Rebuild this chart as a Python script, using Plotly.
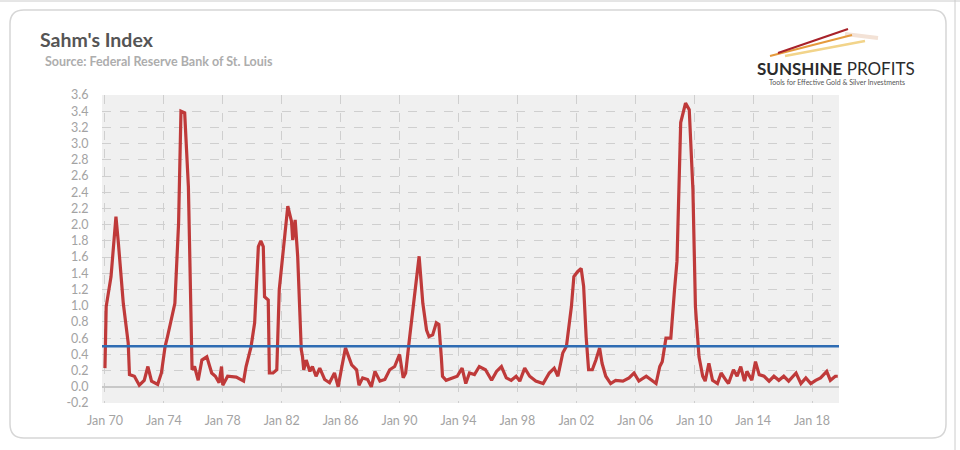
import plotly.graph_objects as go

# ---- data ----
dates = [
    "1970-01", "1970-02", "1970-06", "1970-10", "1970-12", "1971-04", "1971-08", "1971-09",
    "1972-01", "1972-05", "1972-09", "1972-12", "1973-03", "1973-08", "1973-11", "1974-02",
    "1974-04", "1974-10", "1975-01", "1975-03", "1975-06", "1975-09", "1975-12", "1976-02",
    "1976-05", "1976-08", "1976-12", "1977-04", "1977-07", "1977-10", "1977-12", "1978-01",
    "1978-05", "1978-12", "1979-06", "1979-08", "1979-12", "1980-03", "1980-06", "1980-08",
    "1980-10", "1980-11", "1981-02", "1981-03", "1981-06", "1981-09", "1981-11", "1982-02",
    "1982-06", "1982-09", "1982-10", "1982-12", "1983-02", "1983-05", "1983-06", "1983-07",
    "1983-09", "1983-12", "1984-02", "1984-05", "1984-08", "1984-12", "1985-04", "1985-08",
    "1985-11", "1986-02", "1986-05", "1986-10", "1987-02", "1987-04", "1987-07", "1987-11",
    "1988-02", "1988-05", "1988-09", "1989-01", "1989-05", "1989-09", "1990-01", "1990-04",
    "1990-06", "1990-09", "1990-12", "1991-05", "1991-08", "1991-11", "1992-01", "1992-04",
    "1992-07", "1992-09", "1992-11", "1992-12", "1993-03", "1993-08", "1993-12", "1994-04",
    "1994-07", "1994-10", "1995-02", "1995-06", "1995-11", "1996-04", "1996-08", "1996-12",
    "1997-04", "1997-08", "1997-12", "1998-03", "1998-07", "1998-11", "1999-04", "1999-10",
    "2000-03", "2000-07", "2000-10", "2001-02", "2001-05", "2001-09", "2001-11", "2002-02",
    "2002-05", "2002-07", "2002-09", "2002-11", "2003-02", "2003-05", "2003-08", "2003-10",
    "2004-01", "2004-05", "2004-09", "2005-03", "2005-08", "2005-12", "2006-04", "2006-10",
    "2007-02", "2007-06", "2007-09", "2007-11", "2008-02", "2008-06", "2008-09", "2008-11",
    "2009-02", "2009-06", "2009-09", "2009-12", "2010-02", "2010-05", "2010-08", "2010-10",
    "2011-01", "2011-04", "2011-08", "2011-11", "2012-03", "2012-05", "2012-09", "2012-12",
    "2013-03", "2013-06", "2013-08", "2013-12", "2014-03", "2014-06", "2014-10", "2015-02",
    "2015-06", "2015-10", "2016-02", "2016-06", "2016-12", "2017-04", "2017-08", "2017-12",
    "2018-04", "2018-08", "2019-01", "2019-04", "2019-08", "2019-10",
]
sahm = [
    0.23, 0.99, 1.36, 2.10, 1.77, 1.03, 0.54, 0.15,
    0.13, 0.02, 0.08, 0.25, 0.07, 0.03, 0.17, 0.50,
    0.62, 1.03, 2.02, 3.40, 3.38, 2.47, 0.21, 0.25,
    0.08, 0.33, 0.37, 0.17, 0.13, 0.05, 0.25, 0.02,
    0.13, 0.12, 0.07, 0.25, 0.49, 0.79, 1.73, 1.80,
    1.73, 1.11, 1.07, 0.17, 0.17, 0.21, 1.20, 1.61,
    2.23, 2.04, 1.81, 2.06, 1.61, 0.46, 0.37, 0.21,
    0.33, 0.19, 0.25, 0.13, 0.23, 0.09, 0.05, 0.17,
    0.00, 0.25, 0.48, 0.27, 0.21, 0.02, 0.11, 0.09,
    0.00, 0.19, 0.07, 0.09, 0.21, 0.25, 0.40, 0.11,
    0.17, 0.58, 0.95, 1.61, 1.03, 0.70, 0.62, 0.64,
    0.79, 0.77, 0.37, 0.13, 0.08, 0.11, 0.13, 0.23,
    0.04, 0.17, 0.15, 0.25, 0.21, 0.08, 0.19, 0.25,
    0.11, 0.08, 0.13, 0.07, 0.23, 0.13, 0.07, 0.04,
    0.17, 0.23, 0.13, 0.42, 0.50, 0.99, 1.36, 1.42,
    1.46, 1.24, 0.62, 0.21, 0.21, 0.33, 0.48, 0.29,
    0.13, 0.04, 0.08, 0.07, 0.11, 0.17, 0.07, 0.13,
    0.08, 0.04, 0.25, 0.31, 0.60, 0.60, 1.20, 1.55,
    3.26, 3.50, 3.42, 2.43, 0.99, 0.37, 0.13, 0.07,
    0.29, 0.08, 0.04, 0.17, 0.08, 0.04, 0.21, 0.13,
    0.25, 0.07, 0.19, 0.08, 0.31, 0.15, 0.13, 0.07,
    0.13, 0.08, 0.13, 0.07, 0.17, 0.04, 0.11, 0.04,
    0.08, 0.11, 0.19, 0.08, 0.13, 0.13,
]
threshold = 0.5
tick_dates = ["1970-01-01", "1974-01-01", "1978-01-01", "1982-01-01", "1986-01-01",
              "1990-01-01", "1994-01-01", "1998-01-01", "2002-01-01", "2006-01-01",
              "2010-01-01", "2014-01-01", "2018-01-01"]
tick_labels = ["Jan 70", "Jan 74", "Jan 78", "Jan 82", "Jan 86", "Jan 90", "Jan 94",
               "Jan 98", "Jan 02", "Jan 06", "Jan 10", "Jan 14", "Jan 18"]
y_ticks = [round(-0.2 + 0.2 * i, 1) for i in range(20)]

# ---- layout geometry (pixels) ----
W, H = 960, 450
L, R, T, B = 102, 839, 95, 403
pw, ph = R - L, B - T


def px(x):
    return (x - L) / pw


def py(y):
    return (B - y) / ph


fig = go.Figure()
fig.add_trace(go.Scatter(
    x=dates, y=sahm, mode="lines",
    line=dict(color="#bf3a3a", width=3.2),
    hoverinfo="x+y", showlegend=False,
))

grid = dict(showgrid=True, gridcolor="#cfcfcf", griddash="dash", gridwidth=1)

fig.update_layout(
    width=W, height=H,
    margin=dict(l=L, r=W - R, t=T, b=H - B, pad=0),
    paper_bgcolor="white",
    plot_bgcolor="#f0f0f0",
    font=dict(family="Lato, Open Sans, sans-serif", color="#a0a0a0", size=12),
    xaxis=dict(
        type="date", range=["1969-10-20", "2019-11-01"],
        tickvals=tick_dates, ticktext=tick_labels,
        tickfont=dict(size=12.5, color="#a3a3a3"),
        ticks="outside", ticklen=6, tickcolor="rgba(0,0,0,0)",
        zeroline=False, showline=False, **grid,
    ),
    yaxis=dict(
        range=[-0.2, 3.6], tickvals=y_ticks,
        ticktext=[f"{v:.1f}" for v in y_ticks],
        tickfont=dict(size=12.5, color="#a3a3a3"),
        ticks="outside", ticklen=10, tickcolor="rgba(0,0,0,0)",
        zeroline=True, zerolinecolor="#c8c8c8", zerolinewidth=1.5,
        showline=False, **grid,
    ),
    title=dict(
        text="<b>Sahm's Index</b>", xref="container", yref="container",
        x=40 / W, y=1 - 40 / H, xanchor="left", yanchor="middle",
        font=dict(size=19.5, color="#555555", family="Lato, Open Sans, sans-serif"),
    ),
)

r = 14
fx0, fx1, fy0, fy1 = px(10), px(946), py(10), py(438)
rx, ry = r / pw, r / ph
frame = (f"M {fx0 + rx} {fy0} L {fx1 - rx} {fy0} Q {fx1} {fy0} {fx1} {fy0 - ry} "
         f"L {fx1} {fy1 + ry} Q {fx1} {fy1} {fx1 - rx} {fy1} "
         f"L {fx0 + rx} {fy1} Q {fx0} {fy1} {fx0} {fy1 + ry} "
         f"L {fx0} {fy0 - ry} Q {fx0} {fy0} {fx0 + rx} {fy0} Z")

shapes = [
    dict(type="path", path=frame, xref="paper", yref="paper",
         line=dict(color="#d6d6d6", width=1.5), layer="below"),
    dict(type="line", xref="paper", yref="paper", x0=px(0), x1=px(960), y0=py(1), y1=py(1),
         line=dict(color="#cccccc", width=1)),
    dict(type="line", xref="paper", yref="paper", x0=px(955), x1=px(955), y0=py(0), y1=py(450),
         line=dict(color="#cccccc", width=1)),
    # threshold line
    dict(type="line", xref="paper", yref="y", x0=0, x1=1, y0=threshold, y1=threshold,
         line=dict(color="#2f6cb3", width=2.5), layer="above"),
    # logo swoosh
    dict(type="line", xref="paper", yref="paper", x0=px(845), y0=py(34), x1=px(878), y1=py(38),
         line=dict(color="#f3e2d6", width=4)),
    dict(type="line", xref="paper", yref="paper", x0=px(785), y0=py(56), x1=px(865), y1=py(41),
         line=dict(color="#f2d48a", width=2.5)),
    dict(type="line", xref="paper", yref="paper", x0=px(770), y0=py(56), x1=px(852), y1=py(35),
         line=dict(color="#e59a3c", width=2)),
    dict(type="line", xref="paper", yref="paper", x0=px(778), y0=py(53), x1=px(848), y1=py(29),
         line=dict(color="#a8222a", width=2)),
]
fig.update_layout(shapes=shapes)

annotations = [
    dict(text="<b>Source: Federal Reserve Bank of St. Louis</b>", xref="paper", yref="paper",
         x=px(43), y=py(62), xanchor="left", yanchor="middle", showarrow=False,
         font=dict(size=12.5, color="#adadad")),
    dict(text="<b>SUNSHINE</b> PROFITS", xref="paper", yref="paper",
         x=px(836), y=py(68), xanchor="center", yanchor="middle", showarrow=False,
         font=dict(size=17, color="#2b2b2b", family="Lato, sans-serif")),
    dict(text="Tools for Effective Gold &amp; Silver Investments", xref="paper", yref="paper",
         x=px(837), y=py(82), xanchor="center", yanchor="middle", showarrow=False,
         font=dict(size=7, color="#555555", family="Lato, sans-serif")),
]
fig.update_layout(annotations=annotations)

fig.write_html("out.html", post_script="document.body.style.margin='0';",
               config={"displayModeBar": False})
